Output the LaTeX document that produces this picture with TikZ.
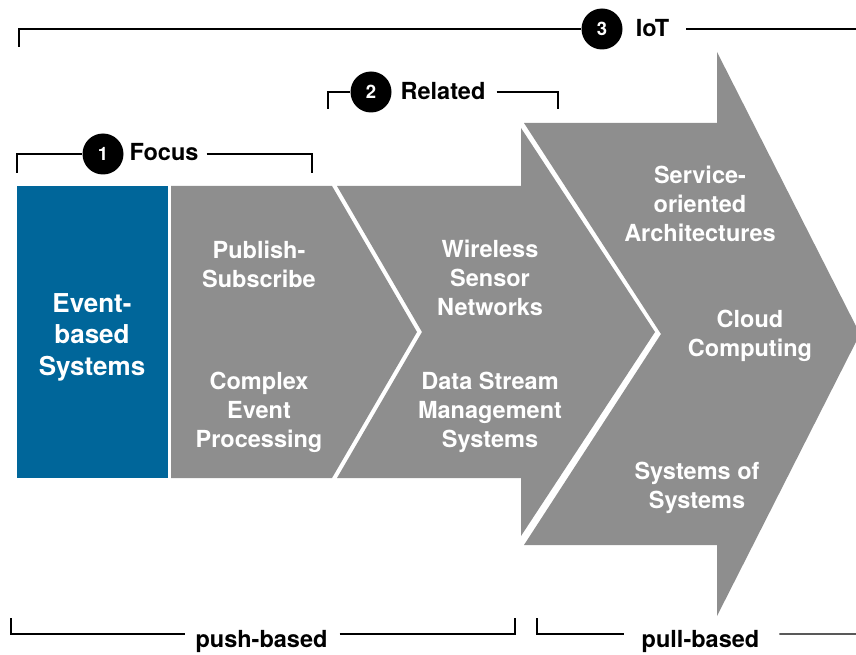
\documentclass[tikz,border=0pt]{standalone}
\usepackage{fontspec}
\setmainfont{TeX Gyre Heros}
\usepackage{xcolor}
\usepackage{tikz}
\definecolor{ebsblue}{HTML}{00669A}
\definecolor{areagrey}{HTML}{8E8E8E}
\tikzset{
    every node/.style={font=\bfseries\fontsize{23.5}{29}\selectfont},
    topic/.style={text=white, align=center, inner sep=0pt},
    tag/.style={inner sep=0pt, anchor=base},
    badge/.style={circle, fill=black, text=white, minimum size=41pt, inner sep=0pt,
        font=\bfseries\fontsize{18.5}{20}\selectfont},
    bracket/.style={line width=1.2pt}
}

\begin{document}
\begin{tikzpicture}[x=1pt,y=-1pt]
            \useasboundingbox (0,0) rectangle (856,655);
            % areas
            \fill[ebsblue] (17,186) rectangle (168,478);
            \fill[areagrey] (171,186) -- (332,186) -- (417,332) -- (332,478) -- (171,478) -- cycle;
            \fill[areagrey] (337,186) -- (521,186) -- (521,128) -- (655,332) -- (521,536)
                -- (521,478) -- (337,478) -- (422,332) -- cycle;
            \fill[areagrey] (524,123) -- (717,123) -- (717,52) -- (860,334) -- (717,616)
                -- (717,545) -- (524,545) -- (661,334) -- cycle;

            % topics
            \node[topic, font=\bfseries\fontsize{26}{31.5}\selectfont] (ebs) at (92,337) {Event-\\based\\Systems};
            \node[topic] (pubsub) at (259,264) {Publish-\\Subscribe};
            \node[topic] (cep) at (259,412) {Complex\\Event\\Processing};
            \node[topic] (wsn) at (490,278) {Wireless\\Sensor\\Networks};
            \node[topic] (dsms) at (490,412) {Data Stream\\Management\\Systems};
            \node[topic] (soa) at (700,204) {Service-\\oriented\\Architectures};
            \node[topic] (cloud) at (750,336) {Cloud\\Computing};
            \node[topic] (sos) at (697,488) {Systems of\\Systems};

            % focus
            \node[badge] (c1) at (103,154) {1};
            \node[tag] (focus) at (164,161) {Focus};
            \coordinate (f1) at (17,173);
            \coordinate (f2) at (312,173);
            \draw[bracket] (f1) |- (c1.west);
            \draw[bracket] ([xshift=8pt]focus.east |- c1) -| (f2);

            % related
            \node[badge] (c2) at (371,92) {2};
            \node[tag] (related) at (443,99.5) {Related};
            \coordinate (r1) at (328,109);
            \coordinate (r2) at (558,109);
            \draw[bracket] (r1) |- (c2.west);
            \draw[bracket] ([xshift=11pt]related.east |- c2) -| (r2);

            % iot
            \node[badge] (c3) at (602,29) {3};
            \node[tag] (iot) at (652.5,37) {IoT};
            \coordinate (i1) at (19,47);
            \coordinate (i2) at (856,29);
            \draw[bracket] (i1) |- (c3.west);
            \draw[bracket] ([xshift=17pt]iot.east |- c3) -- (i2);

            % push / pull
            \node[tag] (push) at (261.5,647) {push-based};
            \coordinate (p1) at (11,618);
            \coordinate (p2) at (515,618);
            \draw[bracket] (p1) |- ([xshift=-10pt,yshift=7pt]push.west);
            \draw[bracket] ([xshift=12pt,yshift=7pt]push.east) -| (p2);
            \node[tag] (pull) at (700.5,647) {pull-based};
            \coordinate (q1) at (537,618);
            \coordinate (q2) at (856,634);
            \draw[bracket] (q1) |- ([xshift=-18pt,yshift=7pt]pull.west);
            \draw[bracket] ([xshift=20pt,yshift=7pt]pull.east) -- (q2);
        \end{tikzpicture}
\end{document}
